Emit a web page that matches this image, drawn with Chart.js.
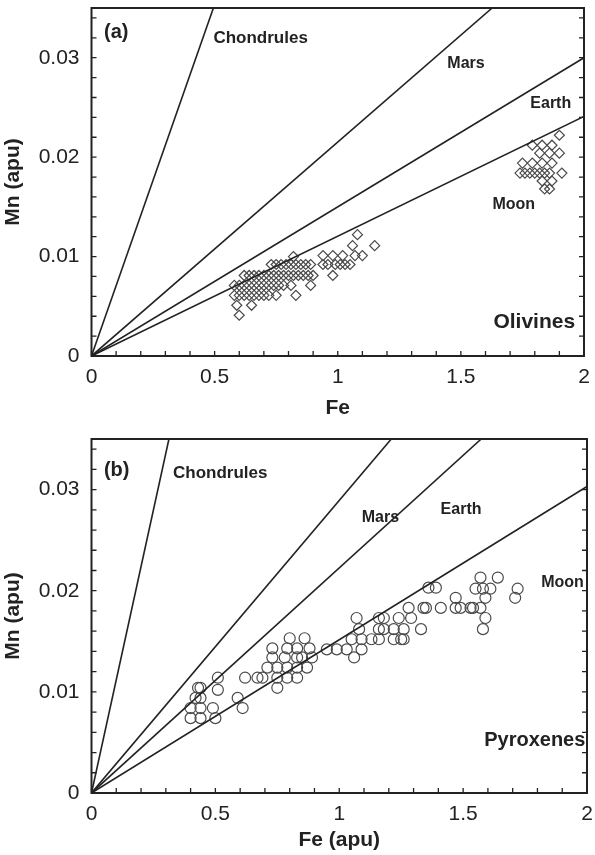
<!DOCTYPE html>
<html><head><meta charset="utf-8">
<script src="https://cdn.jsdelivr.net/npm/chart.js@4.4.1/dist/chart.umd.min.js"></script>
<style>
html,body{margin:0;padding:0;background:#fff;}
#wrap{position:relative;width:595px;height:855px;}
canvas{position:absolute;left:0;}
</style></head><body>
<div id="wrap">
<canvas id="ca" width="595" height="430" style="top:0"></canvas>
<canvas id="cb" width="595" height="425" style="top:430px"></canvas>
</div>
<script>
const FONT = '"Liberation Sans", Arial, Helvetica, sans-serif';

const xTickValues = [0, 0.5, 1, 1.5, 2];
const xTickLabels = ['0', '0.5', '1', '1.5', '2'];
const yTickValues = [0, 0.01, 0.02, 0.03];
const yTickLabels = ['0', '0.01', '0.02', '0.03'];

const lineNames = ['Chondrules', 'Mars', 'Earth', 'Moon'];
// reference-line end points (start at origin), panel (a) olivines
const linesAFe = [0.495, 1.627, 2, 2];
const linesAMn = [0.035, 0.035, 0.030, 0.0241];
// panel (b) pyroxenes
const linesBFe = [0.3125, 1.21, 1.573, 2];
const linesBMn = [0.035, 0.035, 0.035, 0.0303];

// Olivines (a)
const olivineFe = [
 0.60,
 0.59,0.65,
 0.58,0.60,0.62,0.64,0.66,0.68,0.70,0.72,0.75,0.83,
 0.58,0.60,0.62,0.64,0.66,0.68,0.70,0.72,0.74,0.76,0.78,0.81,0.89,
 0.62,0.64,0.66,0.68,0.70,0.72,0.74,0.76,0.78,0.80,0.82,0.84,0.86,0.88,0.90,0.98,
 0.73,0.75,0.77,0.79,0.81,0.83,0.85,0.87,0.89,0.94,0.96,0.99,1.01,1.03,1.05,
 0.82,0.94,0.98,1.02,1.07,1.10,
 1.06,1.15,
 1.08,
 1.90,
 1.79,1.83,1.87,
 1.82,1.86,1.90,
 1.75,1.79,1.83,1.87,
 1.74,1.76,1.78,1.80,1.82,1.84,1.86,1.91,
 1.83,1.87,
 1.84,1.86
];
const olivineMn = [
 0.0041,
 0.0051,0.0051,
 0.0061,0.0061,0.0061,0.0061,0.0061,0.0061,0.0061,0.0061,0.0061,0.0061,
 0.0071,0.0071,0.0071,0.0071,0.0071,0.0071,0.0071,0.0071,0.0071,0.0071,0.0071,0.0071,0.0071,
 0.0081,0.0081,0.0081,0.0081,0.0081,0.0081,0.0081,0.0081,0.0081,0.0081,0.0081,0.0081,0.0081,0.0081,0.0081,0.0081,
 0.0092,0.0092,0.0092,0.0092,0.0092,0.0092,0.0092,0.0092,0.0092,0.0092,0.0092,0.0092,0.0092,0.0092,0.0092,
 0.0100,0.0101,0.0101,0.0101,0.0101,0.0101,
 0.0111,0.0111,
 0.0122,
 0.0222,
 0.0212,0.0212,0.0212,
 0.0204,0.0204,0.0204,
 0.0194,0.0194,0.0194,0.0194,
 0.0184,0.0184,0.0184,0.0184,0.0184,0.0184,0.0184,0.0184,
 0.0176,0.0176,
 0.0168,0.0168
];

// Pyroxenes (b)
const pyroxeneFe = [
 0.80,0.86,
 0.73,0.79,0.83,0.88,0.95,
 0.73,0.78,0.83,0.85,0.89,
 0.71,0.75,0.79,0.83,0.87,
 0.62,0.67,0.69,0.75,0.79,0.83,
 0.75,
 0.51,0.51,
 0.43,0.44,0.44,0.42,0.44,0.40,0.44,0.40,0.49,0.50,
 0.59,0.61,
 1.57,1.64,1.55,1.58,1.61,1.72,1.71,1.59,1.36,1.39,
 1.28,1.34,1.35,1.41,1.47,1.49,1.53,1.54,1.57,
 1.47,
 1.07,1.16,1.18,1.24,1.29,1.59,
 1.08,1.16,1.18,1.22,1.26,1.33,1.58,
 1.05,1.09,1.13,1.16,1.22,1.25,1.26,
 0.99,1.03,1.09,
 1.06
];
const pyroxeneMn = [
 0.0153,0.0153,
 0.0143,0.0143,0.0143,0.0143,0.0142,
 0.0134,0.0134,0.0134,0.0134,0.0134,
 0.0124,0.0124,0.0124,0.0124,0.0124,
 0.0114,0.0114,0.0114,0.0114,0.0114,0.0114,
 0.0104,
 0.0114,0.0102,
 0.0104,0.0104,0.0094,0.0094,0.0084,0.0084,0.0074,0.0074,0.0084,0.0074,
 0.0094,0.0084,
 0.0213,0.0213,0.0202,0.0202,0.0202,0.0202,0.0193,0.0193,0.0203,0.0203,
 0.0183,0.0183,0.0183,0.0183,0.0183,0.0183,0.0183,0.0183,0.0183,
 0.0193,
 0.0173,0.0173,0.0173,0.0173,0.0173,0.0173,
 0.0162,0.0162,0.0162,0.0162,0.0162,0.0162,0.0162,
 0.0152,0.0152,0.0152,0.0152,0.0152,0.0152,0.0152,
 0.0142,0.0142,0.0142,
 0.0134
];

// text annotations: [text, Fe (left edge), Mn (middle), font size]
const notesA = [
 ['(a)', 0.051, 0.0325, 20],
 ['Chondrules', 0.495, 0.0320, 17],
 ['Mars', 1.445, 0.0294, 16],
 ['Earth', 1.782, 0.0254, 16],
 ['Moon', 1.628, 0.0152, 16],
 ['Olivines', 1.632, 0.0034, 21]
];
const notesB = [
 ['(b)', 0.050, 0.0319, 20],
 ['Chondrules', 0.329, 0.0316, 17],
 ['Mars', 1.091, 0.0272, 16],
 ['Earth', 1.409, 0.0280, 16],
 ['Moon', 1.815, 0.0208, 16],
 ['Pyroxenes', 1.585, 0.0052, 20]
];

function decoPlugin(notes) {
  return {
    id: 'deco',
    afterDatasetsDraw(chart) {
      const ctx = chart.ctx, a = chart.chartArea;
      const xs = chart.scales.x, ys = chart.scales.y;
      ctx.save();
      ctx.strokeStyle = '#222';
      ctx.lineWidth = 1.3;
      ctx.beginPath();
      for (let i = 0; i <= 20; i++) {
        const px = xs.getPixelForValue(i / 10);
        ctx.moveTo(px, a.bottom);
        ctx.lineTo(px, a.bottom - 5);
      }
      for (let i = 0; i <= 17; i++) {
        const py = ys.getPixelForValue(i * 0.002);
        ctx.moveTo(a.left, py); ctx.lineTo(a.left + 5, py);
        ctx.moveTo(a.right, py); ctx.lineTo(a.right - 5, py);
      }
      ctx.stroke();
      ctx.lineWidth = 2;
      ctx.strokeRect(a.left, a.top, a.right - a.left, a.bottom - a.top);
      ctx.fillStyle = '#222';
      ctx.textAlign = 'left';
      ctx.textBaseline = 'middle';
      notes.forEach(n => {
        ctx.font = 'bold ' + n[3] + 'px ' + FONT;
        ctx.fillText(n[0], xs.getPixelForValue(n[1]), ys.getPixelForValue(n[2]));
      });
      ctx.restore();
    }
  };
}

function makeChart(id, o) {
  const datasets = [];
  o.fe.forEach((f, i) => {
    datasets.push({
      label: lineNames[i],
      data: [{x: 0, y: 0}, {x: f, y: o.mn[i]}],
      showLine: true, borderColor: '#222', borderWidth: 1.6,
      pointRadius: 0, fill: false
    });
  });
  datasets.push({
    label: o.name,
    data: o.px.map((v, i) => ({x: v, y: o.py[i]})),
    showLine: false,
    pointStyle: o.style, pointRadius: o.r,
    borderColor: '#4a4a4a', backgroundColor: 'rgba(0,0,0,0)', pointBorderWidth: 1.2, borderWidth: 1.2
  });
  return new Chart(document.getElementById(id), {
    type: 'scatter',
    data: {datasets},
    options: {
      responsive: false, animation: false, devicePixelRatio: 1,
      layout: {padding: {top: o.padTop, right: o.padRight, left: 0, bottom: 0}},
      plugins: {legend: {display: false}, tooltip: {enabled: false}},
      scales: {
        x: {
          type: 'linear', min: 0, max: 2,
          afterFit(s) { s.height = o.xH; s.paddingLeft = 0; s.paddingRight = 0; },
          afterBuildTicks(s) { s.ticks = xTickValues.map(v => ({value: v})); },
          grid: {display: false, drawTicks: false}, border: {display: false},
          ticks: {padding: 9, color: '#222', font: {size: 21, family: FONT}, maxRotation: 0, autoSkip: false,
                  callback: v => xTickLabels[xTickValues.indexOf(v)]},
          title: {display: true, text: o.xTitle, color: '#222', font: {size: 21, weight: 'bold', family: FONT},
                  padding: {top: 0, bottom: o.xTitlePad}}
        },
        y: {
          type: 'linear', min: 0, max: 0.035,
          afterFit(s) { s.width = 91.5; s.paddingTop = 0; s.paddingBottom = 0; },
          afterBuildTicks(s) { s.ticks = yTickValues.map(v => ({value: v})); },
          grid: {display: false, drawTicks: false}, border: {display: false},
          ticks: {padding: 12, color: '#222', font: {size: 21, family: FONT}, autoSkip: false,
                  callback: v => yTickLabels[yTickValues.indexOf(v)]},
          title: {display: true, text: 'Mn (apu)', color: '#222', font: {size: 21, weight: 'bold', family: FONT},
                  padding: {top: 1, bottom: 0}}
        }
      }
    },
    plugins: [decoPlugin(o.notes)]
  });
}

makeChart('ca', {fe: linesAFe, mn: linesAMn, px: olivineFe, py: olivineMn, name: 'Olivines',
  style: 'rectRot', r: 5, padTop: 8, padRight: 11, xH: 74, xTitle: 'Fe', xTitlePad: 9, notes: notesA});
makeChart('cb', {fe: linesBFe, mn: linesBMn, px: pyroxeneFe, py: pyroxeneMn, name: 'Pyroxenes',
  style: 'circle', r: 5.5, padTop: 9, padRight: 8, xH: 62, xTitle: 'Fe (apu)', xTitlePad: 2, notes: notesB});
</script>
</body></html>
